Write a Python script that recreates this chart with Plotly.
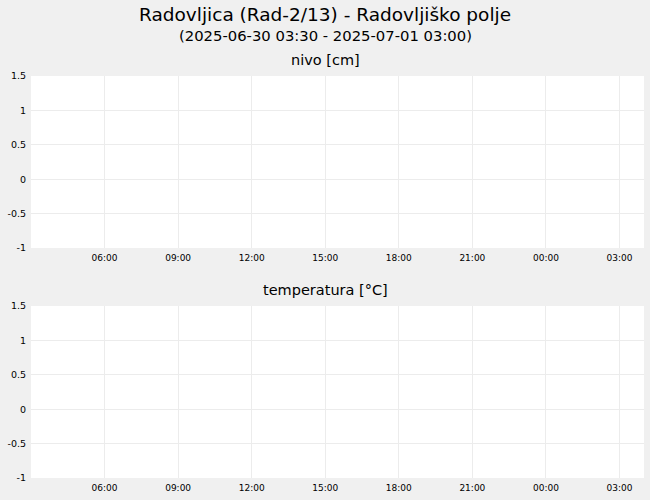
import plotly.graph_objects as go
from plotly.subplots import make_subplots

# no measurements in this period
cas = []
nivo = []
temperatura = []

x_ticks = ["2025-06-30 06:00", "2025-06-30 09:00", "2025-06-30 12:00", "2025-06-30 15:00",
           "2025-06-30 18:00", "2025-06-30 21:00", "2025-07-01 00:00", "2025-07-01 03:00"]
x_tick_labels = ["06:00", "09:00", "12:00", "15:00", "18:00", "21:00", "00:00", "03:00"]
y_ticks = [-1, -0.5, 0, 0.5, 1, 1.5]
y_tick_labels = ["-1", "-0.5", "0", "0.5", "1", "1.5"]

fig = make_subplots(rows=2, cols=1)
fig.add_trace(go.Scatter(x=cas, y=nivo, mode="lines", name="nivo"), row=1, col=1)
fig.add_trace(go.Scatter(x=cas, y=temperatura, mode="lines", name="temperatura"), row=2, col=1)

for r in (1, 2):
    fig.update_xaxes(type="date", range=["2025-06-30 03:00", "2025-07-01 04:00"],
                     tickvals=x_ticks, ticktext=x_tick_labels,
                     tickfont=dict(family="DejaVu Sans", size=9, color="#000"),
                     ticks="outside", ticklen=1, tickcolor="rgba(0,0,0,0)", automargin=False,
                     showgrid=True, gridcolor="#ececec", showline=False, zeroline=False, row=r, col=1)
    fig.update_yaxes(range=[-1, 1.5], tickvals=y_ticks, ticktext=y_tick_labels,
                     tickfont=dict(family="DejaVu Sans", size=9.5, color="#000"),
                     ticks="outside", ticklen=2, tickcolor="rgba(0,0,0,0)", automargin=False,
                     showgrid=True, gridcolor="#ececec", zeroline=False, showline=False, row=r, col=1)

fig.update_layout(
    width=650, height=500,
    margin=dict(l=31, r=6, t=0, b=0),
    paper_bgcolor="#f0f0f0", plot_bgcolor="#ffffff",
    showlegend=False,
    font=dict(family="DejaVu Sans", color="#000"),
    xaxis=dict(domain=[0, 1]),
    yaxis=dict(domain=[0.504, 0.848]),
    xaxis2=dict(domain=[0, 1]),
    yaxis2=dict(domain=[0.044, 0.388]),
)

# centre of the whole 650px page, expressed in plot-area paper coords
x_mid = (325 - 31) / (650 - 31 - 6)
titles = [
    ("Radovljica (Rad-2/13) - Radovljiško polje", 18.5, 14),
    ("(2025-06-30 03:30 - 2025-07-01 03:00)", 14.8, 35),
    ("nivo [cm]", 14.5, 60),
    ("temperatura [°C]", 14.5, 290),
]
for text, size, ypix in titles:
    fig.add_annotation(text=text, xref="paper", yref="paper", x=x_mid, y=1 - ypix / 500,
                       xanchor="center", yanchor="middle", showarrow=False,
                       font=dict(family="DejaVu Sans", size=size, color="#000"))

fig.write_html("out.html", config={"displayModeBar": False},
               post_script="document.body.style.margin='0';")
